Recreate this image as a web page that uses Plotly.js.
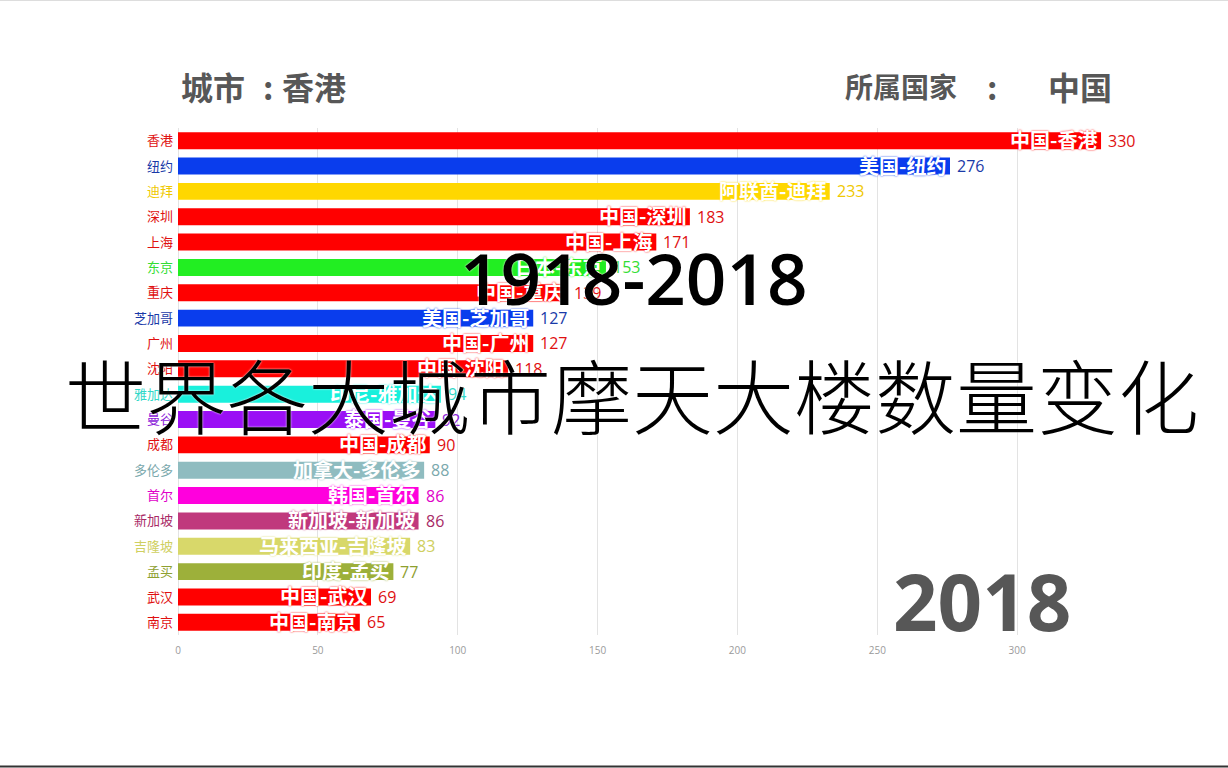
<!DOCTYPE html>
<html>
<head>
<meta charset="utf-8">
<script src="https://cdn.plot.ly/plotly-3.0.1.min.js"></script>
<style>
  html, body { margin: 0; padding: 0; background: #fff; }
  #chart { width: 1228px; height: 768px; }
</style>
</head>
<body>
<div id="chart"></div>
<script>
// ---- data ----
const cities = ['香港','纽约','迪拜','深圳','上海','东京','重庆','芝加哥','广州','沈阳','雅加达','曼谷','成都','多伦多','首尔','新加坡','吉隆坡','孟买','武汉','南京'];
const countries = ['中国','美国','阿联酋','中国','中国','日本','中国','美国','中国','中国','印尼','泰国','中国','加拿大','韩国','新加坡','马来西亚','印度','中国','中国'];
const values = [330,276,233,183,171,153,139,127,127,118,94,92,90,88,86,86,83,77,69,65];
const currentYear = '2018';
const yearSpan = '1918-2018';
const mainTitle = '世界各大城市摩天大楼数量变化';
const headerCityLabel = '城市';
const headerCity = '香港';
const headerCountryLabel = '所属国家';
const headerCountry = '中国';

// ---- styles ----
const countryColor = {
  '中国': '#ff0000',
  '美国': '#0a3ded',
  '阿联酋': '#ffd700',
  '日本': '#22ee22',
  '印尼': '#19f0dc',
  '泰国': '#9a0ff5',
  '加拿大': '#8fbcc0',
  '韩国': '#ff00dd',
  '新加坡': '#c0397d',
  '马来西亚': '#d8d86a',
  '印度': '#9db03a'
};
const labelColor = {
  '中国': '#e01010',
  '美国': '#1a3aa8',
  '阿联酋': '#f0c800',
  '日本': '#33dd33',
  '印尼': '#30d8c8',
  '泰国': '#8a20d8',
  '加拿大': '#7aa8ac',
  '韩国': '#e000c8',
  '新加坡': '#a82a66',
  '马来西亚': '#cfcf60',
  '印度': '#8ea030'
};
const barColors = countries.map(c => countryColor[c]);
const txtColors = countries.map(c => labelColor[c]);
const insideText = countries.map((c, i) => c + '-' + cities[i]);
const tickText = cities.map((c, i) => '<span style="color:' + txtColors[i] + '">' + c + '</span>');

const W = 1228, H = 768;
const L = 178, R = 85, T = 128, B = 133;
const pw = W - L - R, ph = H - T - B;
const px = x => (x - L) / pw;
const py = y => (H - B - y) / ph;

const cjk = '"Noto Sans CJK SC", "Noto Sans", sans-serif';
const headFont = { family: cjk, size: 32, color: '#575757', weight: 'bold' };

const traces = [
  {
    type: 'bar',
    orientation: 'h',
    x: values,
    y: cities,
    marker: { color: barColors, line: { width: 0 } },
    hoverinfo: 'skip'
  }
];

const barLabels = cities.map((c, i) => ({
  x: values[i], y: c, xref: 'x', yref: 'y',
  xanchor: 'right', yanchor: 'middle', xshift: -2, yshift: 1,
  text: insideText[i], showarrow: false,
  font: { family: cjk, size: 20, color: '#ffffff', weight: 'bold',
          shadow: '0px 0px 2px ' + barColors[i] }
}));
const valueLabels = cities.map((c, i) => ({
  x: values[i], y: c, xref: 'x', yref: 'y',
  xanchor: 'left', yanchor: 'middle', xshift: 5, yshift: 0,
  text: String(values[i]), showarrow: false,
  font: { family: '"Open Sans", "Noto Sans", sans-serif', size: 16, color: txtColors[i] }
}));

const layout = {
  width: W, height: H,
  margin: { l: L, r: R, t: T, b: B, pad: 0 },
  paper_bgcolor: '#ffffff',
  plot_bgcolor: '#ffffff',
  showlegend: false,
  bargap: 0.33,
  font: { family: cjk },
  xaxis: {
    range: [0, 345],
    dtick: 50,
    tick0: 0,
    showgrid: true,
    gridcolor: '#e3e3e3',
    gridwidth: 1,
    zeroline: true,
    zerolinecolor: '#e3e3e3',
    zerolinewidth: 1,
    showline: false,
    ticks: '',
    ticklabelstandoff: 8,
    tickfont: { family: '"Open Sans", sans-serif', size: 10, color: '#9a9a9a' },
    fixedrange: true
  },
  yaxis: {
    type: 'category',
    range: [cities.length - 0.5, -0.5],
    autorange: false,
    tickmode: 'array',
    tickvals: cities,
    ticktext: tickText,
    tickfont: { family: cjk, size: 13 },
    showgrid: false,
    zeroline: false,
    showline: false,
    ticks: '',
    ticklabelstandoff: 4,
    fixedrange: true
  },
  shapes: [
    { type: 'line', xref: 'paper', yref: 'paper', x0: px(0), x1: px(W), y0: py(0.5), y1: py(0.5),
      line: { color: '#dddddd', width: 1 } },
    { type: 'line', xref: 'paper', yref: 'paper', x0: px(0), x1: px(W), y0: py(766.5), y1: py(766.5),
      line: { color: '#333333', width: 2 } }
  ],
  annotations: barLabels.concat(valueLabels).concat([
    { xref: 'paper', yref: 'paper', x: px(179), y: py(86), xanchor: 'left', yanchor: 'middle',
      text: headerCityLabel, showarrow: false, font: headFont },
    { xref: 'paper', yref: 'paper', x: px(268), y: py(86), xanchor: 'center', yanchor: 'middle',
      text: ':', showarrow: false, font: headFont },
    { xref: 'paper', yref: 'paper', x: px(348), y: py(86), xanchor: 'right', yanchor: 'middle',
      text: headerCity, showarrow: false, font: headFont },
    { xref: 'paper', yref: 'paper', x: px(843), y: py(86), xanchor: 'left', yanchor: 'middle',
      text: headerCountryLabel, showarrow: false,
      font: { family: cjk, size: 28, color: '#575757', weight: 'bold' } },
    { xref: 'paper', yref: 'paper', x: px(992), y: py(86), xanchor: 'center', yanchor: 'middle',
      text: ':', showarrow: false, font: headFont },
    { xref: 'paper', yref: 'paper', x: px(1114), y: py(86), xanchor: 'right', yanchor: 'middle',
      text: headerCountry, showarrow: false, font: headFont },
    { xref: 'paper', yref: 'paper', x: px(982), y: py(601), xanchor: 'center', yanchor: 'middle',
      text: currentYear, showarrow: false,
      font: { family: '"Open Sans", sans-serif', size: 78, color: '#575757', weight: 'bold' } },
    { xref: 'paper', yref: 'paper', x: px(634), y: py(277), xanchor: 'center', yanchor: 'middle',
      text: yearSpan, showarrow: false,
      font: { family: '"Open Sans", "Noto Sans CJK SC", sans-serif', size: 71, color: '#000000', weight: 600,
              shadow: '0px 0px 2px #ffffff' } },
    { xref: 'paper', yref: 'paper', x: px(632), y: py(392), xanchor: 'center', yanchor: 'middle',
      text: mainTitle, showarrow: false,
      font: { family: cjk, size: 81, color: '#000000', weight: 300, shadow: '0px 0px 2px #ffffff' } }
  ])
};

Plotly.newPlot('chart', traces, layout, { displayModeBar: false, staticPlot: true });
</script>
</body>
</html>
